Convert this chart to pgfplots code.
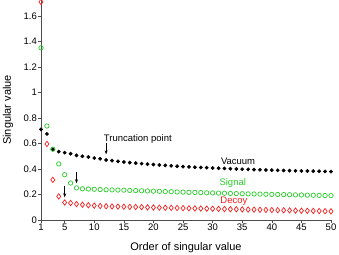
\documentclass[border=0pt]{standalone}
\usepackage{pgfplots}
\pgfplotsset{compat=1.18}
\usepackage{pgfplotstable}
\usetikzlibrary{arrows.meta}
\usepackage{fontspec}
\setmainfont{Liberation Sans}
\definecolor{sig}{RGB}{40,205,40}
\definecolor{dec}{RGB}{245,30,30}
\pgfplotstableread{
x vac sig dec
1 0.711 1.350 1.710
2 0.675 0.737 0.596
3 0.555 0.555 0.315
4 0.536 0.440 0.185
5 0.528 0.355 0.137
6 0.520 0.290 0.133
7 0.507 0.252 0.125
8 0.500 0.245 0.120
9 0.494 0.243 0.116
10 0.486 0.241 0.113
11 0.480 0.239 0.110
12 0.471 0.237 0.108
13 0.466 0.236 0.106
14 0.460 0.235 0.105
15 0.455 0.234 0.104
16 0.450 0.232 0.103
17 0.446 0.231 0.102
18 0.442 0.229 0.101
19 0.438 0.228 0.099
20 0.435 0.226 0.098
21 0.431 0.225 0.097
22 0.428 0.223 0.096
23 0.425 0.222 0.095
24 0.422 0.220 0.094
25 0.419 0.219 0.093
26 0.417 0.217 0.092
27 0.414 0.216 0.091
28 0.412 0.215 0.090
29 0.410 0.213 0.089
30 0.408 0.212 0.088
31 0.406 0.211 0.087
32 0.404 0.210 0.086
33 0.402 0.208 0.085
34 0.400 0.207 0.084
35 0.398 0.206 0.083
36 0.397 0.205 0.082
37 0.395 0.204 0.081
38 0.394 0.203 0.080
39 0.392 0.202 0.079
40 0.391 0.201 0.078
41 0.390 0.200 0.077
42 0.388 0.199 0.076
43 0.387 0.198 0.075
44 0.386 0.197 0.074
45 0.385 0.196 0.073
46 0.384 0.195 0.072
47 0.383 0.194 0.071
48 0.382 0.193 0.070
49 0.381 0.192 0.069
50 0.380 0.191 0.068
}\datatab
\begin{document}
\begin{tikzpicture}
\begin{axis}[name=ax,
  width=290bp, height=220bp, scale only axis,
  xmin=1, xmax=50, ymin=0, ymax=1.725,
  axis x line*=bottom, axis y line*=left,
  axis line style={black!70, line width=0.6pt, -},
  xtick={1,5,10,15,20,25,30,35,40,45,50},
  ytick={0,0.2,0.4,0.6,0.8,1,1.2,1.4,1.6},
  yticklabels={0,0.2,0.4,0.6,0.8,1,1.2,1.4,1.6},
  xticklabels={1,5,10,15,20,25,30,35,40,45,50},
  tick align=outside, major tick length=2.5bp,
  tick style={black!70, line width=0.5pt},
  tick label style={font=\fontsize{9.5bp}{11bp}\selectfont},
  every tick label/.append style={inner sep=1.5bp},
  xlabel={Order of singular value},
  ylabel={Singular value},
  label style={font=\fontsize{11bp}{13bp}\selectfont},
  xlabel style={at={([yshift=-28bp]axis description cs:0.5,0)}, anchor=center},
  ylabel style={at={([xshift=-33bp]axis description cs:0,0.5)}, anchor=center},
  clip=false,
]
\addplot[only marks, mark=*, mark size=1.7bp, black] table[x=x, y=vac] {\datatab};
\addplot[only marks, mark=o, mark size=2.2bp, sig, mark options={line width=0.7pt}] table[x=x, y=sig] {\datatab};
\addplot[only marks, mark=diamond, mark size=2.7bp, dec, mark options={line width=0.7pt}] table[x=x, y=dec] {\datatab};
\draw[-{Stealth[length=4bp,width=3bp]}, line width=0.6pt] (axis cs:12,0.60) -- (axis cs:12,0.515);
\draw[-{Stealth[length=4bp,width=3bp]}, line width=0.6pt] (axis cs:7,0.38) -- (axis cs:7,0.288);
\draw[-{Stealth[length=4bp,width=3bp]}, line width=0.6pt] (axis cs:5,0.267) -- (axis cs:5,0.178);
\node[font=\fontsize{9.5bp}{11bp}\selectfont, anchor=west, inner sep=0pt] at (axis cs:11.6,0.635) {Truncation point};
\node[font=\fontsize{9.5bp}{11bp}\selectfont, inner sep=0pt] at (axis cs:34.3,0.46) {Vacuum};
\node[font=\fontsize{9.5bp}{11bp}\selectfont, inner sep=0pt, text=sig] at (axis cs:33.4,0.29) {Signal};
\node[font=\fontsize{9.5bp}{11bp}\selectfont, inner sep=0pt, text=dec] at (axis cs:33.6,0.145) {Decoy};
\end{axis}
\pgfresetboundingbox
\path[use as bounding box] ([shift={(-41bp,-35bp)}]ax.south west) rectangle ([shift={(8bp,0bp)}]ax.north east);
\end{tikzpicture}
\end{document}
